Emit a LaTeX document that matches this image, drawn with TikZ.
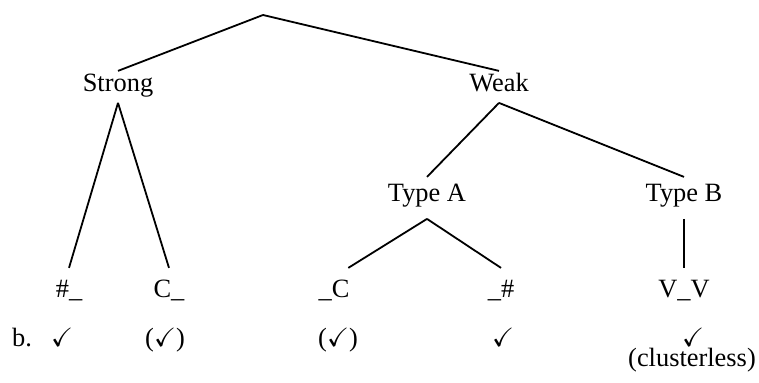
\documentclass[tikz,border=0pt]{standalone}
\usepackage{amssymb}
\usepackage{fontspec}
\setmainfont{Liberation Serif}
\begin{document}
\begin{tikzpicture}[x=0.5pt, y=-0.5pt, line width=0.9pt,
    every node/.style={font=\fontsize{13.2}{16}\selectfont, inner xsep=0pt, anchor=base},
    cat/.style={text height=8.6pt, text depth=3.5pt, inner ysep=1.5pt},
    sub/.style={text height=8.6pt, text depth=4.5pt, inner ysep=3.5pt},
    leaf/.style={text height=8.6pt, text depth=2pt, inner ysep=6pt}]
    \useasboundingbox (0,0) rectangle (759,383);
    \coordinate (top) at (263,15);
    \node[cat] (strong) at (118,92) {Strong};
    \node[cat] (weak) at (499,92) {Weak};
    \node[sub] (typeA) at (427,202) {Type A};
    \node[sub] (typeB) at (684,202) {Type B};
    \node[leaf] (wordInit) at (69,298) {\#\_};
    \node[leaf] (postCons) at (169,298) {C\_};
    \node[leaf] (preCons) at (334,298) {\_C};
    \node[leaf] (wordFin) at (501,298) {\_\#};
    \node[leaf] (interV) at (684,298) {V\_V};
    \node (ex) at (22,347) {b.};
    \node (okA) at (62,347) {$\checkmark$};
    \node (okB) at (165,347) {($\checkmark$)};
    \node (okC) at (338,347) {($\checkmark$)};
    \node (okD) at (503,347) {$\checkmark$};
    \node (okE) at (693,347) {$\checkmark$};
    \node (note) at (692,367) {(clusterless)};
    \draw (top) -- (strong.north);
    \draw (top) -- (weak.north);
    \draw (strong.south) -- (wordInit.north);
    \draw (strong.south) -- (postCons.north);
    \draw (weak.south) -- (typeA.north);
    \draw (weak.south) -- (typeB.north);
    \draw (typeA.south) -- ([xshift=-1pt]preCons.north east);
    \draw (typeA.south) -- (wordFin.north);
    \draw (typeB.south) -- (interV.north);
\end{tikzpicture}
\end{document}
